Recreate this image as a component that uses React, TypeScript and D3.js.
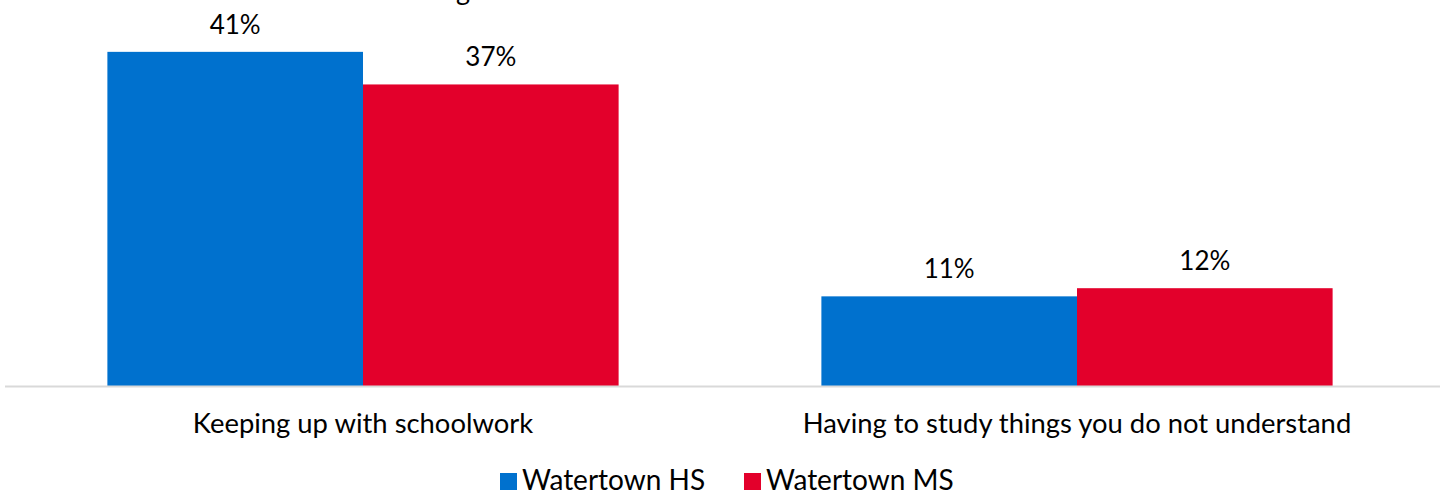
import React from "react";
import * as d3 from "d3";

const categories = ["Keeping up with schoolwork", "Having to study things you do not understand"];
const seriesNames = ["Watertown HS", "Watertown MS"];
const hsValues = [0.41, 0.11];
const msValues = [0.37, 0.12];
const colors = ["#0071CE", "#E3002B"];

const W = 1440;
const H = 492;
const FONT = "Lato, 'Open Sans', sans-serif";

export default function App() {
  const baseline = 386;
  const x = d3.scaleBand<string>().domain(categories).range([6, 1434]).paddingInner(0.284).paddingOuter(0.142);
  const xs = d3.scaleBand<string>().domain(seriesNames).range([0, x.bandwidth()]);
  const y = d3.scaleLinear().domain([0, 0.45]).range([baseline, baseline - 0.45 * 815]);
  const series = [hsValues, msValues];
  const fmt = d3.format(".0%");

  const legendX = [500, 744];

  return (
    <svg width={W} height={H} style={{ position: "absolute", left: 0, top: 0, background: "#fff" }} fontFamily={FONT}>
      <text x={463} y={0} fontSize={27} textAnchor="middle" fill="#000">g</text>
      {categories.map((c, i) => (
        <g key={c}>
          {series.map((vals, s) => (
            <rect
              key={s}
              x={(x(c) as number) + (xs(seriesNames[s]) as number)}
              y={y(vals[i])}
              width={xs.bandwidth()}
              height={baseline - y(vals[i])}
              fill={colors[s]}
            />
          ))}
          {series.map((vals, s) => (
            <text
              key={"l" + s}
              x={(x(c) as number) + (xs(seriesNames[s]) as number) + xs.bandwidth() / 2}
              y={y(vals[i]) - 18}
              textAnchor="middle"
              fontSize={26}
              fill="#000"
            >
              {fmt(vals[i])}
            </text>
          ))}
          <text
            x={(x(c) as number) + x.bandwidth() / 2}
            y={433}
            textAnchor="middle"
            fontSize={27.4}
            fill="#000"
          >
            {c}
          </text>
        </g>
      ))}
      <line x1={5} x2={1440} y1={baseline + 0.5} y2={baseline + 0.5} stroke="#D9D9D9" strokeWidth={2} />
      {seriesNames.map((n, s) => (
        <g key={n}>
          <rect x={legendX[s]} y={473} width={17} height={17} fill={colors[s]} />
          <text x={legendX[s] + 22} y={490} fontSize={28} fill="#000">{n}</text>
        </g>
      ))}
    </svg>
  );
}
